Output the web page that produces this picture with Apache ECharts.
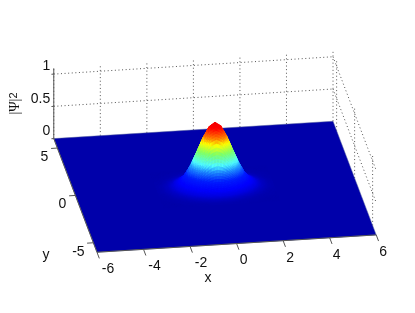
<!DOCTYPE html>
<html><head><meta charset="utf-8">
<style>html,body{margin:0;padding:0;background:#fff}#c{width:415px;height:313px}</style>
<script src="https://cdn.jsdelivr.net/npm/echarts@6/dist/echarts.min.js"></script>
</head><body><div id="c"></div>
<script>
// tick values
var xTicks = [-6,-4,-2,0,2,4,6];
var yTicks = [-5,0,5];
var zTicks = [0,0.5,1];
var xLabels = ['-6','-4','-2','0','2','4','6'];
var yLabels = ['-5','0','5'];
var zLabels = ['0','0.5','1'];
var gridX = [-2.5,-2.25,-2,-1.75,-1.5,-1.25,-1,-0.75,-0.5,-0.25,0,0.25,0.5,0.75,1,1.25,1.5,1.75,2,2.25,2.5];
var gridY = [-1.875,-1.6875,-1.5,-1.3125,-1.125,-0.9375,-0.75,-0.5625,-0.375,-0.1875,0,0.1875,0.375,0.5625,0.75,0.9375,1.125,1.3125,1.5,1.6875,1.875];
var psi2 = [
[0,0,0,0,0,0,.001,.001,.002,.002,.002,.002,.002,.001,.001,0,0,0,0,0,0],
[0,0,0,0,.001,.001,.002,.003,.005,.006,.006,.006,.005,.003,.002,.001,.001,0,0,0,0],
[0,0,0,.001,.002,.004,.007,.010,.014,.017,.018,.017,.014,.010,.007,.004,.002,.001,0,0,0],
[0,0,.001,.002,.005,.010,.017,.027,.037,.044,.047,.044,.037,.027,.017,.010,.005,.002,.001,0,0],
[0,.001,.002,.005,.011,.022,.039,.060,.082,.099,.105,.099,.082,.060,.039,.022,.011,.005,.002,.001,0],
[0,.001,.004,.010,.022,.044,.077,.120,.164,.197,.210,.197,.164,.120,.077,.044,.022,.010,.004,.001,0],
[.001,.002,.007,.017,.039,.077,.135,.210,.287,.346,.368,.346,.287,.210,.135,.077,.039,.017,.007,.002,.001],
[.001,.003,.010,.027,.060,.120,.210,.325,.444,.535,.570,.535,.444,.325,.210,.120,.060,.027,.010,.003,.001],
[.002,.005,.014,.037,.082,.164,.287,.444,.607,.732,.779,.732,.607,.444,.287,.164,.082,.037,.014,.005,.002],
[.002,.006,.017,.044,.099,.197,.346,.535,.732,.882,.939,.882,.732,.535,.346,.197,.099,.044,.017,.006,.002],
[.002,.006,.018,.047,.105,.210,.368,.570,.779,.939,1,.939,.779,.570,.368,.210,.105,.047,.018,.006,.002],
[.002,.006,.017,.044,.099,.197,.346,.535,.732,.882,.939,.882,.732,.535,.346,.197,.099,.044,.017,.006,.002],
[.002,.005,.014,.037,.082,.164,.287,.444,.607,.732,.779,.732,.607,.444,.287,.164,.082,.037,.014,.005,.002],
[.001,.003,.010,.027,.060,.120,.210,.325,.444,.535,.570,.535,.444,.325,.210,.120,.060,.027,.010,.003,.001],
[.001,.002,.007,.017,.039,.077,.135,.210,.287,.346,.368,.346,.287,.210,.135,.077,.039,.017,.007,.002,.001],
[0,.001,.004,.010,.022,.044,.077,.120,.164,.197,.210,.197,.164,.120,.077,.044,.022,.010,.004,.001,0],
[0,.001,.002,.005,.011,.022,.039,.060,.082,.099,.105,.099,.082,.060,.039,.022,.011,.005,.002,.001,0],
[0,0,.001,.002,.005,.010,.017,.027,.037,.044,.047,.044,.037,.027,.017,.010,.005,.002,.001,0,0],
[0,0,0,.001,.002,.004,.007,.010,.014,.017,.018,.017,.014,.010,.007,.004,.002,.001,0,0,0],
[0,0,0,0,.001,.001,.002,.003,.005,.006,.006,.006,.005,.003,.002,.001,.001,0,0,0,0],
[0,0,0,0,0,0,.001,.001,.002,.002,.002,.002,.002,.001,.001,0,0,0,0,0,0]
];
// colour ramp
var rampAt = [0,0.01,0.047,0.1,0.21,0.33,0.42,0.57,0.7,0.78,0.92,1];
var rampRGB = [[0,0,170],[0,0,185],[0,0,225],[0,0,255],[0,30,255],[30,140,255],[80,255,255],[128,255,100],[255,255,0],[255,128,0],[255,0,0],[240,0,0]];
// axis box limits
var xLim = [-6,6], yLim = [-6,6], zTop = 1.09;

// view: oblique projection of (x,y,z) to screen pixels
var O = [215, 186.75], ex = [23.27,-1.446], ey = [-3.6,-9.47], ez = [0,-64.5];
function proj(x,y,z){return [O[0]+ex[0]*x+ey[0]*y+ez[0]*z, O[1]+ex[1]*x+ey[1]*y+ez[1]*z];}
function color(v){
  for(var k=1;k<rampAt.length;k++){ if(v<=rampAt[k]||k===rampAt.length-1){
    var t=Math.min(1,Math.max(0,(v-rampAt[k-1])/(rampAt[k]-rampAt[k-1]))),a=rampRGB[k-1],b=rampRGB[k];
    return 'rgb('+Math.round(a[0]+(b[0]-a[0])*t)+','+Math.round(a[1]+(b[1]-a[1])*t)+','+Math.round(a[2]+(b[2]-a[2])*t)+')';
  }}
}
// segments [x1,y1,z1,x2,y2,z2]
var gridSegs=[], axisSegs=[];
xTicks.forEach(function(x){ gridSegs.push([x,yLim[1],0,x,yLim[1],zTop]); });
yTicks.forEach(function(y){ gridSegs.push([xLim[1],y,0,xLim[1],y,zTop]); });
zTicks.slice(1).forEach(function(z){
  gridSegs.push([xLim[0],yLim[1],z,xLim[1],yLim[1],z]);
  gridSegs.push([xLim[1],yLim[1],z,xLim[1],yLim[0],z]);
});
axisSegs.push([xLim[0],yLim[1],0,xLim[0],yLim[1],zTop]);
axisSegs.push([xLim[0],yLim[0],0,xLim[1],yLim[0],0]);
axisSegs.push([xLim[0],yLim[0],0,xLim[0],yLim[1],0]);
xTicks.forEach(function(x){ axisSegs.push([x,yLim[0],0,x,yLim[0]-0.65,0]); });
yTicks.forEach(function(y){ axisSegs.push([xLim[0],y,0,xLim[0]-0.27,y,0]); });
zTicks.forEach(function(z){ axisSegs.push([xLim[0],yLim[1],z,xLim[0]-0.1,yLim[1],z]); });

// cells back to front
var cells=[];
for(var r=gridY.length-2;r>=0;r--) for(var c=gridX.length-2;c>=0;c--) cells.push([c,r]);

function segRender(style){ return function(p,api){
  var a=proj(api.value(0),api.value(1),api.value(2)), b=proj(api.value(3),api.value(4),api.value(5));
  var A=api.coord(a),B=api.coord(b);
  return {type:'line',shape:{x1:A[0],y1:A[1],x2:B[0],y2:B[1]},style:style,silent:true};
};}
function labelRender(p,api){
  var d=texts[p.dataIndex], q=api.coord(proj(d[0],d[1],d[2]));
  return {type:'text',x:q[0]+d[3],y:q[1]+d[4],style:{text:d[5],fill:'#111',font:'14px "Liberation Sans",Arial,sans-serif',align:d[6],verticalAlign:'middle'},silent:true};
}
var texts=[];
xTicks.forEach(function(x,i){ texts.push([x,yLim[0],0,x<0?11:7,17,xLabels[i],'center']); });
yTicks.forEach(function(y,i){ texts.push([xLim[0],y,0,y<0?-15:-13,9,yLabels[i],'center']); });
zTicks.forEach(function(z,i){ texts.push([xLim[0],yLim[1],z,-3.5,-7.5,zLabels[i],'right']); });

var chart=echarts.init(document.getElementById('c'),null,{renderer:'canvas'});
chart.setOption({
  animation:false,
  backgroundColor:'#fff',
  grid:{left:0,right:0,top:0,bottom:0},
  xAxis:{type:'value',min:0,max:415,show:false},
  yAxis:{type:'value',min:0,max:313,inverse:true,show:false},
  series:[
    {type:'custom',coordinateSystem:'cartesian2d',clip:false,silent:true,z:1,progressive:0,
     data:gridSegs,renderItem:segRender({stroke:'#555',lineWidth:1,lineDash:[1,2.6],fill:null})},
    {type:'custom',coordinateSystem:'cartesian2d',clip:false,silent:true,z:2,progressive:0,
     data:[[xLim[0],xLim[1],yLim[0],yLim[1]]],
     renderItem:function(p,api){
       var pts=[[api.value(0),api.value(2)],[api.value(1),api.value(2)],[api.value(1),api.value(3)],[api.value(0),api.value(3)]]
         .map(function(q){return api.coord(proj(q[0],q[1],0));});
       return {type:'polygon',shape:{points:pts},style:{fill:color(0),stroke:'#55609f',lineWidth:0.5},silent:true};
     }},
    {type:'custom',coordinateSystem:'cartesian2d',clip:false,silent:true,z:3,progressive:0,
     data:cells,
     renderItem:function(p,api){
       var c=api.value(0),r=api.value(1),n=4,kids=[];
       var z00=psi2[r][c],z10=psi2[r][c+1],z01=psi2[r+1][c],z11=psi2[r+1][c+1];
       var x0=gridX[c],x1=gridX[c+1],y0=gridY[r],y1=gridY[r+1];
       function H(u,v){return (z00*(1-u)+z10*u)*(1-v)+(z01*(1-u)+z11*u)*v;}
       function P(u,v){return api.coord(proj(x0+(x1-x0)*u,y0+(y1-y0)*v,H(u,v)));}
       for(var j=n-1;j>=0;j--) for(var i=n-1;i>=0;i--){
         var u0=i/n,u1=(i+1)/n,v0=j/n,v1=(j+1)/n;
         var col=color(H((u0+u1)/2,(v0+v1)/2));
         kids.push({type:'polygon',shape:{points:[P(u0,v0),P(u1,v0),P(u1,v1),P(u0,v1)]},
           style:{fill:col,stroke:col,lineWidth:0.6},silent:true});
       }
       return {type:'group',children:kids,silent:true};
     }},
    {type:'custom',coordinateSystem:'cartesian2d',clip:false,silent:true,z:4,progressive:0,
     data:axisSegs,renderItem:segRender({stroke:'#555',lineWidth:1,fill:null})},
    {type:'custom',coordinateSystem:'cartesian2d',clip:false,silent:true,z:5,progressive:0,
     data:texts.map(function(d,i){return [i];}),renderItem:labelRender},
    {type:'custom',coordinateSystem:'cartesian2d',clip:false,silent:true,z:5,progressive:0,
     data:[[208,278],[46,255]],
     renderItem:function(p,api){
       var q=api.coord([api.value(0),api.value(1)]);
       return {type:'text',x:q[0],y:q[1],style:{text:p.dataIndex===0?'x':'y',fill:'#111',font:'14px "Liberation Sans",Arial,sans-serif',align:'center',verticalAlign:'middle'},silent:true};
     }},
    {type:'custom',coordinateSystem:'cartesian2d',clip:false,silent:true,z:5,progressive:0,
     data:[[15,103.5]],
     renderItem:function(p,api){
       var q=api.coord([api.value(0),api.value(1)]);
       return {type:'text',x:q[0],y:q[1],rotation:Math.PI/2,
         style:{text:'{b||Ψ|}{s|2}',align:'center',verticalAlign:'middle',
           rich:{b:{fontSize:14,fontFamily:'"Liberation Serif",serif',fill:'#111',color:'#111',verticalAlign:'bottom'},
                 s:{fontSize:11,fontFamily:'"Liberation Sans",Arial,sans-serif',fill:'#111',color:'#111',verticalAlign:'top'}}},silent:true};
     }}
  ]
});
</script></body></html>
